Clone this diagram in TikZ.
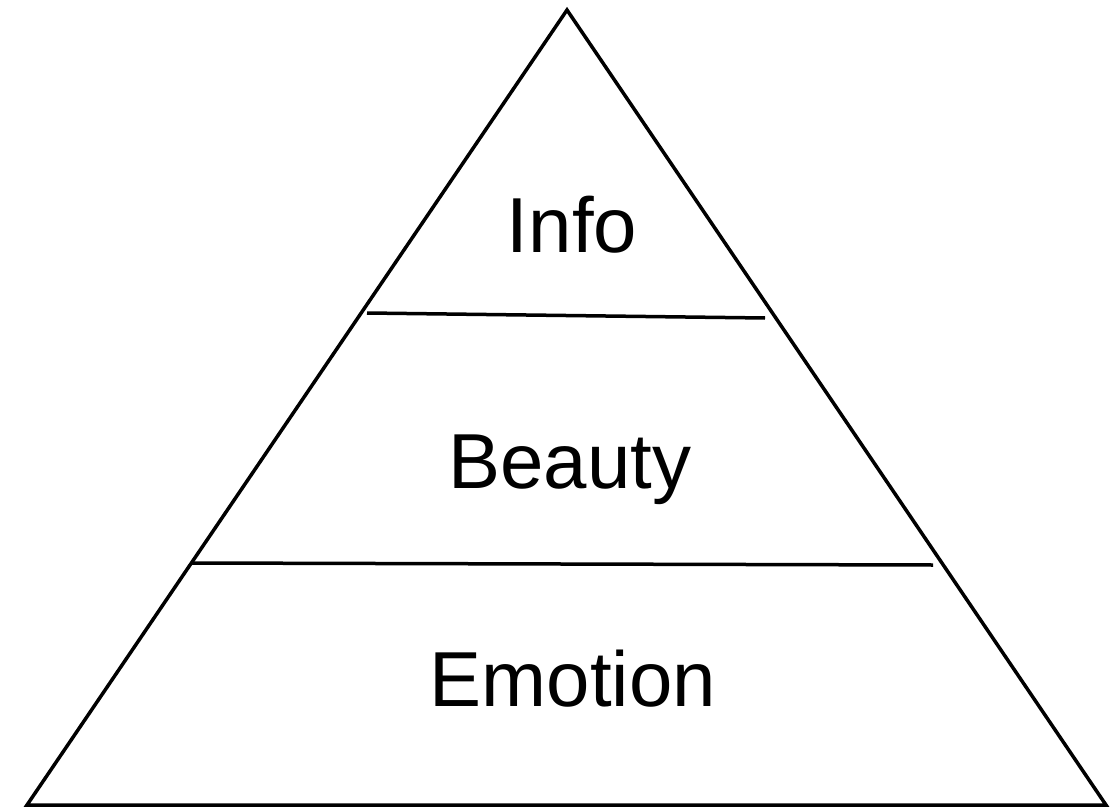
\documentclass[tikz,border=0pt]{standalone}
\usepackage{fontspec}
\setmainfont{Liberation Sans}
\begin{document}
\begin{tikzpicture}[x=1pt,y=-1pt,
  edge/.style={line width=3.5pt,line join=miter},
  label/.style={font=\fontsize{78}{82}\selectfont,inner sep=0pt}]
\useasboundingbox (0,0) rectangle (1118,810);
\coordinate (apex) at (567,10);
\coordinate (bl) at (27,805);
\coordinate (br) at (1106,805);
\draw[edge] (apex) -- (bl) -- (br) -- cycle;
\coordinate (l1a) at (367,313);
\coordinate (l1b) at (765,318);
\coordinate (l2a) at (192,563);
\coordinate (l2b) at (933,565);
\draw[edge] (l1a) -- (l1b);
\draw[edge] (l2a) -- (l2b);
\node[label] (info) at (572,225) {Info};
\node[label] (beauty) at (570,470) {Beauty};
\node[label] (emotion) at (573,679) {Emotion};
\end{tikzpicture}
\end{document}
